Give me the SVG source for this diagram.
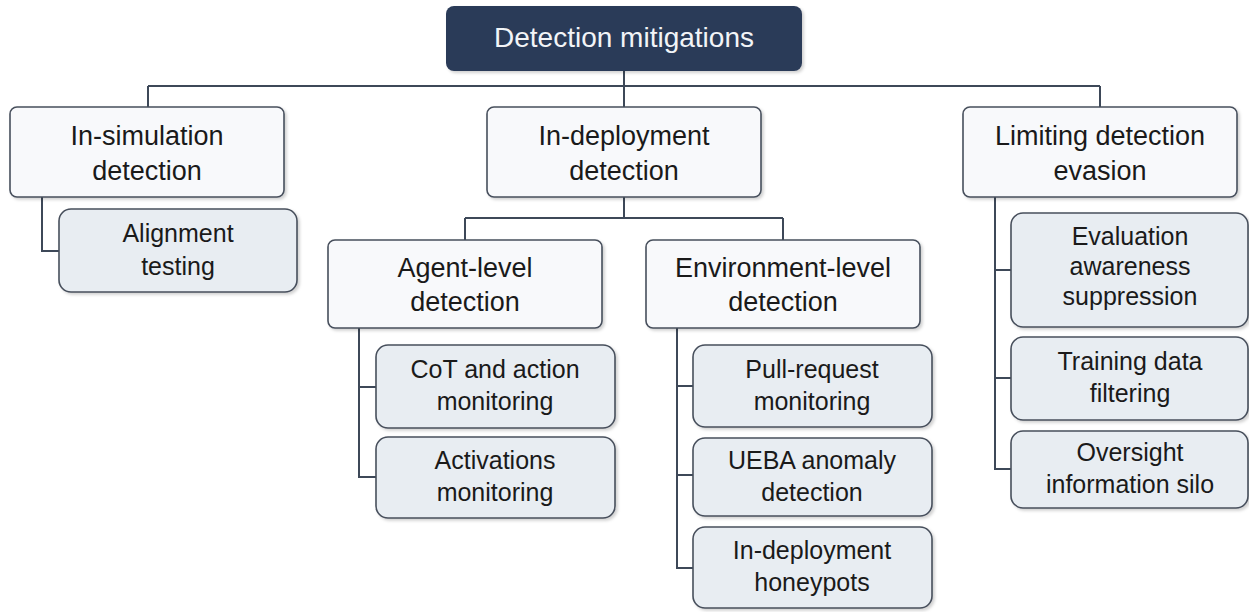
<svg xmlns="http://www.w3.org/2000/svg" width="1249" height="612" viewBox="0 0 1249 612">
  <defs>
    <filter id="shadow" x="-10%" y="-10%" width="130%" height="140%">
      <feDropShadow dx="2" dy="2" stdDeviation="1.5" flood-color="#000" flood-opacity="0.18"/>
    </filter>
    <style>
      .root { fill: #2b3b58; filter: url(#shadow); }
      .cat { fill: #f8f9fb; stroke: #474f5c; stroke-width: 1.6; filter: url(#shadow); }
      .leaf { fill: #e8edf2; stroke: #474f5c; stroke-width: 1.6; filter: url(#shadow); }
      .link { fill: none; stroke: #3d4858; stroke-width: 2; }
      text { font-family: "Liberation Sans", Arial, sans-serif; text-anchor: middle; fill: #1a1a1a; }
      .t-root { font-size: 28px; fill: #f2f4f7; }
      .t-cat { font-size: 27px; }
      .t-leaf { font-size: 25px; }
    </style>
  </defs>
  <rect width="1249" height="612" fill="#ffffff"/>

  <!-- connectors -->
  <g id="connectors">
    <path class="link" d="M624 71 V86 M148 86 H1100 M148 86 V107 M624 86 V107 M1100 86 V107"/>
    <path class="link" d="M42 197 V251 H59"/>
    <path class="link" d="M624 197 V218 M465 218 H783 M465 218 V240 M783 218 V240"/>
    <path class="link" d="M359 328 V477 H376 M359 387 H376"/>
    <path class="link" d="M677 328 V568 H693 M677 386 H693 M677 475 H693"/>
    <path class="link" d="M995 197 V469 H1011 M995 270 H1011 M995 378 H1011"/>
  </g>

  <!-- top node -->
  <g id="detection-mitigations">
    <rect class="root" x="446" y="6" width="356" height="65" rx="8"/>
    <text class="t-root" x="624" y="47">Detection mitigations</text>
  </g>

  <!-- first level -->
  <g id="in-simulation-detection">
    <rect class="cat" x="10" y="107" width="274" height="90" rx="7"/>
    <text class="t-cat" x="147" y="145">In-simulation</text>
    <text class="t-cat" x="147" y="180">detection</text>
  </g>
  <g id="in-deployment-detection">
    <rect class="cat" x="487" y="107" width="274" height="90" rx="7"/>
    <text class="t-cat" x="624" y="145">In-deployment</text>
    <text class="t-cat" x="624" y="180">detection</text>
  </g>
  <g id="limiting-detection-evasion">
    <rect class="cat" x="963" y="107" width="274" height="90" rx="7"/>
    <text class="t-cat" x="1100" y="145">Limiting detection</text>
    <text class="t-cat" x="1100" y="180">evasion</text>
  </g>

  <!-- second level under in-deployment -->
  <g id="agent-level-detection">
    <rect class="cat" x="328" y="240" width="274" height="88" rx="7"/>
    <text class="t-cat" x="465" y="277">Agent-level</text>
    <text class="t-cat" x="465" y="311">detection</text>
  </g>
  <g id="environment-level-detection">
    <rect class="cat" x="646" y="240" width="274" height="88" rx="7"/>
    <text class="t-cat" x="783" y="277">Environment-level</text>
    <text class="t-cat" x="783" y="311">detection</text>
  </g>

  <!-- leaves -->
  <g id="alignment-testing">
    <rect class="leaf" x="59" y="209" width="238" height="83" rx="12"/>
    <text class="t-leaf" x="178" y="242">Alignment</text>
    <text class="t-leaf" x="178" y="275">testing</text>
  </g>
  <g id="cot-action-monitoring">
    <rect class="leaf" x="376" y="345" width="239" height="83" rx="12"/>
    <text class="t-leaf" x="495" y="378">CoT and action</text>
    <text class="t-leaf" x="495" y="410">monitoring</text>
  </g>
  <g id="activations-monitoring">
    <rect class="leaf" x="376" y="437" width="239" height="81" rx="12"/>
    <text class="t-leaf" x="495" y="469">Activations</text>
    <text class="t-leaf" x="495" y="501">monitoring</text>
  </g>
  <g id="pull-request-monitoring">
    <rect class="leaf" x="693" y="345" width="239" height="82" rx="12"/>
    <text class="t-leaf" x="812" y="378">Pull-request</text>
    <text class="t-leaf" x="812" y="410">monitoring</text>
  </g>
  <g id="ueba-anomaly-detection">
    <rect class="leaf" x="693" y="438" width="239" height="78" rx="12"/>
    <text class="t-leaf" x="812" y="469">UEBA anomaly</text>
    <text class="t-leaf" x="812" y="501">detection</text>
  </g>
  <g id="in-deployment-honeypots">
    <rect class="leaf" x="693" y="527" width="239" height="81" rx="12"/>
    <text class="t-leaf" x="812" y="559">In-deployment</text>
    <text class="t-leaf" x="812" y="591">honeypots</text>
  </g>
  <g id="evaluation-awareness-suppression">
    <rect class="leaf" x="1011" y="213" width="237" height="114" rx="12"/>
    <text class="t-leaf" x="1130" y="245">Evaluation</text>
    <text class="t-leaf" x="1130" y="275">awareness</text>
    <text class="t-leaf" x="1130" y="305">suppression</text>
  </g>
  <g id="training-data-filtering">
    <rect class="leaf" x="1011" y="337" width="237" height="83" rx="12"/>
    <text class="t-leaf" x="1130" y="370">Training data</text>
    <text class="t-leaf" x="1130" y="402">filtering</text>
  </g>
  <g id="oversight-information-silo">
    <rect class="leaf" x="1011" y="431" width="237" height="77" rx="12"/>
    <text class="t-leaf" x="1130" y="461">Oversight</text>
    <text class="t-leaf" x="1130" y="493">information silo</text>
  </g>
</svg>
